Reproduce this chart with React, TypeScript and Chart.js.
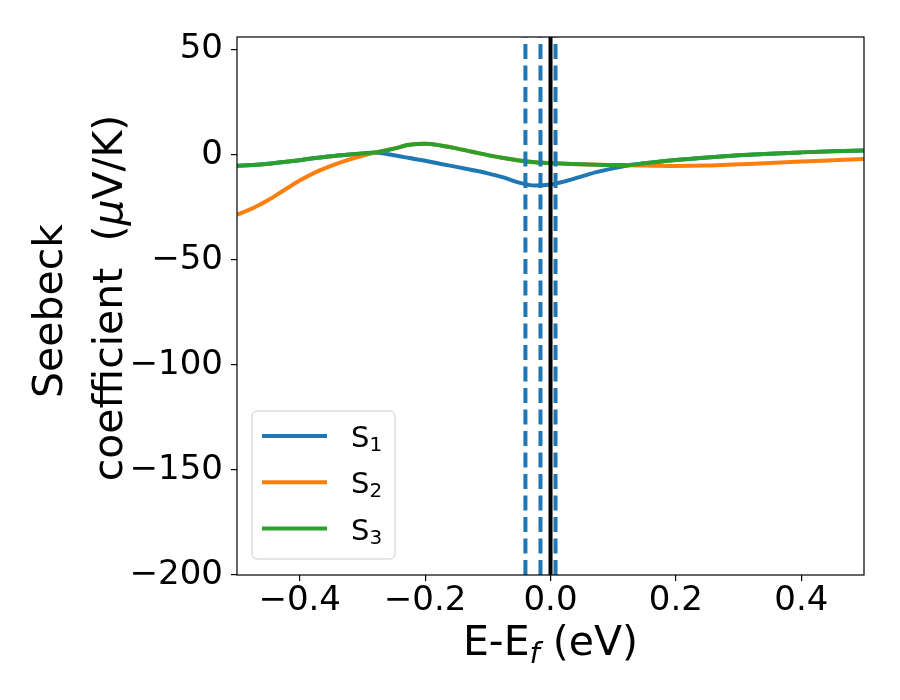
import { useEffect, useRef } from "react";
import { Chart, registerables } from "chart.js";

Chart.register(...registerables);

// energy grid (eV, relative to E_f) and Seebeck components (µV/K)
const energy = [
  -0.5, -0.475, -0.45, -0.425, -0.4, -0.375, -0.35, -0.325, -0.3, -0.28, -0.25, -0.225, -0.2, -0.175,
  -0.15, -0.125, -0.1, -0.075, -0.05, -0.025, 0, 0.025, 0.05, 0.075, 0.1, 0.125, 0.15, 0.2, 0.25, 0.3,
  0.35, 0.4, 0.45, 0.5,
];
const s1 = [
  -5.3, -4.9, -4.3, -3.5, -2.6, -1.6, -0.7, 0.0, 0.6, 1.0, -0.3, -1.6, -2.9, -4.4,
  -5.8, -7.3, -8.9, -10.8, -13.3, -14.7, -14.2, -12.5, -10.3, -8.2, -6.5, -5.0, -4.1, -2.5, -1.3, -0.3,
  0.5, 1.1, 1.6, 2.0,
];
const s2 = [
  -28.5, -25.5, -21.6, -16.9, -12.3, -8.4, -5.3, -2.7, -0.5, 1.0, 2.9, 4.7, 5.2, 4.4,
  3.0, 1.4, -0.2, -1.6, -2.8, -3.6, -4.0, -4.3, -4.6, -4.8, -4.9, -5.0, -5.2, -5.4, -5.2, -4.6,
  -4.0, -3.3, -2.7, -2.1,
];
const s3 = [
  -5.3, -4.9, -4.3, -3.5, -2.6, -1.6, -0.7, 0.0, 0.6, 1.0, 2.9, 4.7, 5.2, 4.4,
  3.0, 1.4, -0.2, -1.6, -2.8, -3.6, -4.0, -4.3, -4.6, -4.8, -4.9, -5.0, -4.1, -2.5, -1.3, -0.3,
  0.5, 1.1, 1.6, 2.0,
];

const bandEdges = [-0.04, -0.016, 0.008];
const fermiLevel = 0;

const xTicks = [-0.4, -0.2, 0, 0.2, 0.4];
const yTicks = [-200, -150, -100, -50, 0, 50];

const seriesSubs = ["1", "2", "3"];
const seriesColors = ["#1f77b4", "#ff7f0e", "#2ca02c"];

const X_MIN = -0.5;
const X_MAX = 0.5;
const Y_MIN = -200;
const Y_MAX = 56;

const FONT = "'DejaVu Sans', sans-serif";

const toMinus = (s: string) => s.replace("-", "\u2212");

const decorations = {
  id: "decorations",
  afterDatasetsDraw(chart: any) {
    const { ctx, chartArea: a } = chart;
    ctx.save();
    ctx.strokeStyle = "#000";
    ctx.lineWidth = 1.2;
    ctx.strokeRect(a.left, a.top, a.right - a.left, a.bottom - a.top);
    ctx.restore();
  },
  afterDraw(chart: any) {
    const { ctx, chartArea: a } = chart;
    ctx.save();

    // legend
    const bx = a.left + 15;
    const bw = 143;
    const bh = 148;
    const by = a.bottom - 16 - bh;
    ctx.beginPath();
    ctx.roundRect(bx, by, bw, bh, 5);
    ctx.fillStyle = "rgba(255,255,255,0.8)";
    ctx.fill();
    ctx.strokeStyle = "#cccccc";
    ctx.lineWidth = 1;
    ctx.stroke();
    seriesSubs.forEach((sub, i) => {
      const ly = by + 25 + i * 46.3;
      ctx.beginPath();
      ctx.moveTo(bx + 10, ly);
      ctx.lineTo(bx + 75, ly);
      ctx.strokeStyle = seriesColors[i];
      ctx.lineWidth = 4;
      ctx.stroke();
      ctx.fillStyle = "#000";
      ctx.textBaseline = "alphabetic";
      ctx.textAlign = "left";
      ctx.font = `29px ${FONT}`;
      ctx.fillText("S", bx + 99, ly + 11);
      const sw = ctx.measureText("S").width;
      ctx.font = `20px ${FONT}`;
      ctx.fillText(sub, bx + 99 + sw, ly + 15);
    });

    ctx.fillStyle = "#000";
    ctx.textBaseline = "alphabetic";
    ctx.textAlign = "left";

    // x axis label: E-E_f (eV)
    const big = `41px ${FONT}`;
    const subIt = `italic 29px ${FONT}`;
    ctx.font = big;
    const w1 = ctx.measureText("E-E").width;
    const w3 = ctx.measureText(" (eV)").width;
    ctx.font = subIt;
    const w2 = ctx.measureText("f").width;
    let x = (a.left + a.right) / 2 - (w1 + w2 + w3) / 2;
    const base = 655;
    ctx.font = big;
    ctx.fillText("E-E", x, base);
    x += w1;
    ctx.font = subIt;
    ctx.fillText("f", x, base + 8);
    x += w2;
    ctx.font = big;
    ctx.fillText(" (eV)", x, base);

    // y axis label, two lines rotated
    const midY = (a.top + a.bottom) / 2;
    ctx.save();
    ctx.translate(62, midY + 5);
    ctx.rotate(-Math.PI / 2);
    ctx.font = big;
    ctx.textAlign = "center";
    ctx.fillText("Seebeck", 0, 0);
    ctx.restore();

    ctx.save();
    ctx.translate(122, midY - 8);
    ctx.rotate(-Math.PI / 2);
    ctx.textAlign = "left";
    const partA = "coefficient  (";
    const partB = "\u03bc";
    const partC = "V/K)";
    ctx.font = big;
    const pa = ctx.measureText(partA).width;
    const pc = ctx.measureText(partC).width;
    ctx.font = `italic 41px ${FONT}`;
    const pb = ctx.measureText(partB).width;
    let t = -(pa + pb + pc) / 2;
    ctx.font = big;
    ctx.fillText(partA, t, 0);
    t += pa;
    ctx.font = `italic 41px ${FONT}`;
    ctx.fillText(partB, t, 0);
    t += pb;
    ctx.font = big;
    ctx.fillText(partC, t, 0);
    ctx.restore();

    ctx.restore();
  },
};

export default function App() {
  const canvasRef = useRef<HTMLCanvasElement>(null);

  useEffect(() => {
    if (!canvasRef.current) return;

    const curves = [s1, s2, s3].map((vals, i) => ({
      label: `S${seriesSubs[i]}`,
      data: energy.map((e, j) => ({ x: e, y: vals[j] })),
      borderColor: seriesColors[i],
      borderWidth: 4,
      pointRadius: 0,
      cubicInterpolationMode: "monotone" as const,
      order: 3 - i,
    }));

    const edges = bandEdges.map((e) => ({
      label: "edge",
      data: [
        { x: e, y: Y_MIN },
        { x: e, y: Y_MAX },
      ],
      borderColor: "#1f77b4",
      borderWidth: 4,
      borderDash: [15, 6.5],
      pointRadius: 0,
      order: 0,
    }));

    const fermi = {
      label: "Ef",
      data: [
        { x: fermiLevel, y: Y_MIN },
        { x: fermiLevel, y: Y_MAX },
      ],
      borderColor: "#000000",
      borderWidth: 4,
      pointRadius: 0,
      order: -1,
    };

    const chart = new Chart(canvasRef.current, {
      type: "line",
      data: { datasets: [...curves, ...edges, fermi] as any },
      options: {
        animation: false,
        responsive: true,
        maintainAspectRatio: false,
        layout: { padding: { left: 0, top: 37, right: 36, bottom: 0 } },
        plugins: {
          legend: { display: false },
          tooltip: { enabled: false },
        },
        scales: {
          x: {
            type: "linear",
            min: X_MIN,
            max: X_MAX,
            afterBuildTicks: (scale: any) => {
              scale.ticks = xTicks.map((v) => ({ value: v }));
            },
            afterFit: (scale: any) => {
              scale.height = 125;
            },
            border: { display: false },
            grid: {
              drawOnChartArea: false,
              drawTicks: true,
              tickLength: 6,
              color: "#000",
              lineWidth: 1.2,
            },
            ticks: {
              color: "#000",
              font: { family: FONT, size: 34 },
              padding: 0,
              maxRotation: 0,
              callback: (v: any) => toMinus((Math.abs(v) < 1e-9 ? 0 : Number(v)).toFixed(1)),
            },
          },
          y: {
            type: "linear",
            min: Y_MIN,
            max: Y_MAX,
            afterBuildTicks: (scale: any) => {
              scale.ticks = yTicks.map((v) => ({ value: v }));
            },
            afterFit: (scale: any) => {
              scale.width = 237;
            },
            border: { display: false },
            grid: {
              drawOnChartArea: false,
              drawTicks: true,
              tickLength: 6,
              color: "#000",
              lineWidth: 1.2,
            },
            ticks: {
              color: "#000",
              font: { family: FONT, size: 34 },
              padding: 8,
              callback: (v: any) => toMinus(String(v)),
            },
          },
        },
      },
      plugins: [decorations],
    });

    return () => {
      chart.destroy();
    };
  }, []);

  return (
    <div style={{ position: "absolute", left: 0, top: 0, width: 900, height: 700, background: "#fff" }}>
      <canvas ref={canvasRef}></canvas>
    </div>
  );
}
